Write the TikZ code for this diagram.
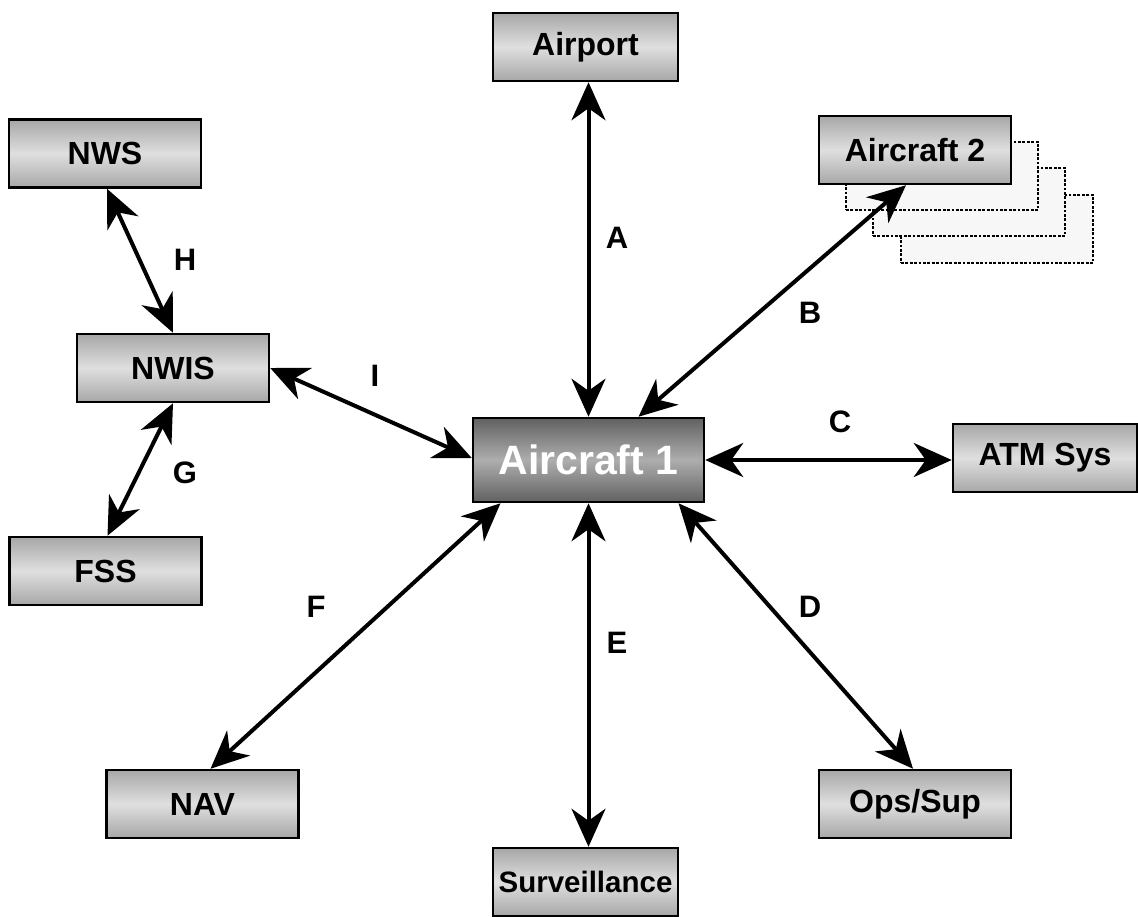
\documentclass[tikz,border=0pt]{standalone}
\usepackage{fontspec}
\setmainfont{Liberation Sans}
\usetikzlibrary{arrows.meta}
\begin{document}
\begin{tikzpicture}[x=1pt,y=-1pt,
  box/.style={draw=black,line width=2.5pt,minimum width=192pt,minimum height=68pt,
    top color=gray!85!black!60,bottom color=gray!85!black!60,middle color=gray!25,
    font=\bfseries\fontsize{32}{34}\selectfont,inner sep=0pt},
  mainbox/.style={draw=black,line width=2.5pt,minimum width=231pt,minimum height=84pt,
    top color=black!62,bottom color=black!62,middle color=black!32,text=white,
    font=\bfseries\fontsize{41}{44}\selectfont,inner sep=0pt},
  ghost/.style={draw=black,line width=2.8pt,dash pattern=on 2.8pt off 1.6pt,fill=black!3,minimum width=192pt,minimum height=68pt},
  link/.style={line width=4pt,{Stealth[length=38pt,width=34pt,inset=12pt]}-{Stealth[length=38pt,width=34pt,inset=12pt]}},
  lbl/.style={font=\bfseries\fontsize{31}{33}\selectfont}]
\useasboundingbox (0,0) rectangle (1138,916);
% ghost copies of Aircraft 2
\node[ghost] (g3) at (997,229) {};
\node[ghost] (g2) at (969,202) {};
\node[ghost] (g1) at (942,176) {};
% nodes
\node[box,minimum width=185pt] (airport) at (585.5,47) {Airport};
\node[box] (ac2) at (915,150) {Aircraft 2};
\node[box] (nws) at (105,153.5) {NWS};
\node[box] (nwis) at (173,368) {NWIS};
\node[box] (fss) at (105.5,571) {FSS};
\node[mainbox] (ac1) at (588.5,460) {Aircraft 1};
\node[box,minimum width=184pt] (atm) at (1045,458) {ATM Sys};
\node[box] (nav) at (202.5,804) {NAV};
\node[box] (ops) at (915,804) {Ops/Sup};
\node[box,minimum width=185pt,font=\bfseries\fontsize{29.5}{32}\selectfont] (surv) at (585.5,882) {Surveillance};
% connectors
\draw[link] (ac1.north) -- (ac1.north |- airport.south);
\draw[link] ([xshift=-9pt]ac2.south) -- ([xshift=50pt]ac1.north);
\draw[link] (ac1.east) -- (ac1.east -| atm.west);
\draw[link] ([xshift=90pt]ac1.south) -- ([xshift=-2pt]ops.north);
\draw[link] (ac1.south) -- (ac1.south |- surv.north);
\draw[link] ([xshift=-88pt]ac1.south) -- ([xshift=8pt]nav.north);
\draw[link] ([yshift=0pt]nwis.east) -- ([yshift=2pt]ac1.west);
\draw[link] (nwis.south) -- ([xshift=2pt]fss.north);
\draw[link] ([xshift=2pt]nws.south) -- (nwis.north);
% labels
\node[lbl] (la) at (617,238) {A};
\node[lbl] (lb) at (810,313) {B};
\node[lbl] (lc) at (840,422) {C};
\node[lbl] (ld) at (810,607) {D};
\node[lbl] (le) at (617,643) {E};
\node[lbl] (lf) at (316,607) {F};
\node[lbl] (lg) at (185,473) {G};
\node[lbl] (lh) at (185,260) {H};
\node[lbl] (li) at (375,376) {I};
\end{tikzpicture}
\end{document}
